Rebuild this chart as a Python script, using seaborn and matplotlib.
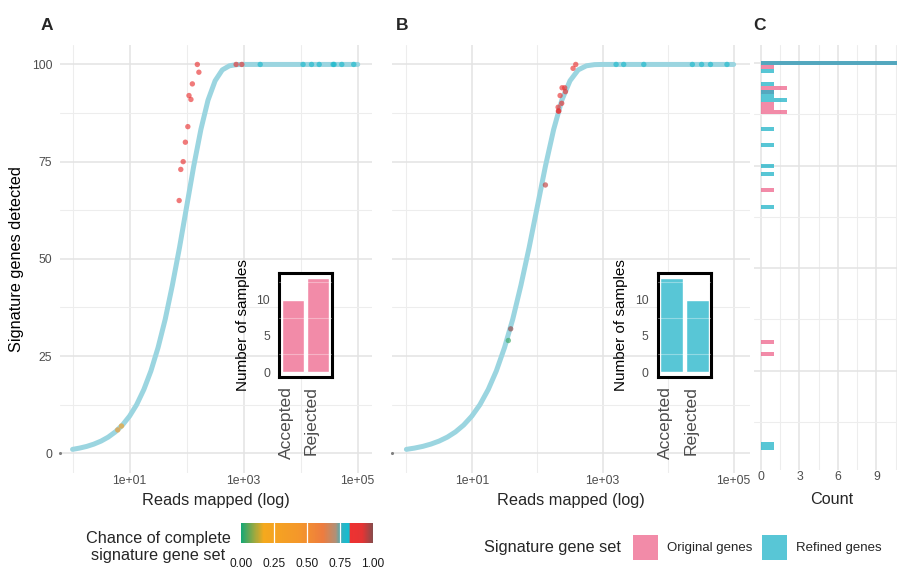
import matplotlib
matplotlib.use("Agg")
import matplotlib.pyplot as plt
import matplotlib.transforms as mtransforms
from matplotlib.colors import LinearSegmentedColormap, Normalize
from matplotlib.colorbar import ColorbarBase
from matplotlib.patches import Rectangle
from matplotlib.ticker import NullFormatter
import pandas as pd
import seaborn as sns

# ---------------------------------------------------------------- data
# expected number of signature genes detected for a given read depth
curve_reads = [1, 1.33, 1.78, 2.37, 3.16, 4.22, 5.62, 7.5, 10, 13.3, 17.8, 23.7,
               31.6, 42.2, 56.2, 75, 100, 133, 178, 237, 316, 422, 562, 750,
               1000, 10000, 100000]
curve_detected = [1.0, 1.33, 1.77, 2.36, 3.13, 4.15, 5.49, 7.26, 9.56, 12.5, 16.4,
                  21.2, 27.2, 34.5, 43.2, 52.9, 63.4, 73.8, 83.3, 90.8, 95.8, 98.6,
                  99.65, 99.95, 100, 100, 100]

# samples scored with the original signature genes
orig_reads = [0, 6.2, 7.2, 74, 79, 87, 95, 105, 110, 119, 126, 164, 154, 738, 929,
              1950, 11000, 15500, 21100, 37000, 38500, 52500, 85100]
orig_detected = [0, 6, 7, 65, 73, 75, 80, 84, 92, 91, 95, 98, 100, 100, 100,
                 100, 100, 100, 100, 100, 100, 100, 100]
orig_chance = [None, 0.40, 0.30, 0.88, 0.88, 0.88, 0.88, 0.88, 0.88, 0.88, 0.88,
               0.88, 0.88, 0.90, 0.90, 0.80, 0.80, 0.80, 0.80, 0.80, 0.80, 0.80, 0.80]

# samples scored with the refined signature genes
ref_reads = [0, 36.1, 39.2, 133, 208, 210, 213, 223, 236, 239, 262, 269, 352, 387,
             1600, 2090, 4240, 23400, 32400, 44300, 79100]
ref_detected = [0, 29, 32, 69, 89, 88, 88, 92, 90, 94, 94, 93, 99, 100,
                100, 100, 100, 100, 100, 100, 100]
ref_chance = [None, 0.03, 0.99, 0.95, 0.88, 0.88, 0.88, 0.88, 0.88, 0.88, 0.88,
              0.88, 0.88, 0.88, 0.80, 0.80, 0.80, 0.80, 0.80, 0.80, 0.80]

# sample outcome counts (inset bar charts)
outcome_labels = ["Accepted", "Rejected"]
orig_outcome_counts = [10, 13]
ref_outcome_counts = [13, 10]

# genes detected per sample, histogram panel
hist_original = [100] * 11 + [99, 94, 94, 93, 90, 89, 88, 88, 69, 32, 29]
hist_refined = [100] * 11 + [98, 95, 93, 92, 91, 91, 84, 80, 75, 73, 65, 7, 6]

# colour scale for the chance of a complete signature gene set
chance_stops = [0.0, 0.17, 0.45, 0.62, 0.72, 0.77, 0.82, 0.83, 0.92, 1.0]
chance_colors = ["#18a874", "#f5a91d", "#f4962b", "#ed7c3f", "#b09078",
                 "#2ab5c6", "#14bdd0", "#ee3232", "#e53434", "#8b4b4b"]

PINK = "#F28BA8"
BLUE = "#58C6D6"
HIST_PINK = "#EE648B"
HIST_BLUE = "#20B3C8"
CURVE = "#9BD5E0"
GRID_MAJOR = "#e3e3e3"
GRID_MINOR = "#ededed"
TICK = "#4d4d4d"

# ---------------------------------------------------------------- figure
sns.set_theme(style="white")
plt.rcParams["font.family"] = ["Liberation Sans", "DejaVu Sans"]

W, H, DPI = 897, 569, 100
fig = plt.figure(figsize=(W / DPI, H / DPI), dpi=DPI)
fig.patch.set_facecolor("white")


def box(x0, y0, x1, y1):
    """Figure-fraction rectangle from pixel edges (y measured from the top)."""
    return [x0 / W, 1 - y1 / H, (x1 - x0) / W, (y1 - y0) / H]


def put_text(x, y, s, **kw):
    fig.text(x / W, 1 - y / H, s, **kw)


chance_cmap = LinearSegmentedColormap.from_list(
    "chance", list(zip(chance_stops, chance_colors)))


def plain_grid(ax):
    ax.grid(True, which="major", color=GRID_MAJOR, linewidth=1.1)
    ax.grid(True, which="minor", color=GRID_MINOR, linewidth=0.75)
    ax.set_axisbelow(True)
    for s in ax.spines.values():
        s.set_visible(False)
    ax.tick_params(which="both", length=0)


def main_panel(rect, reads, detected, chance, show_y):
    ax = fig.add_axes(rect)
    ax.set_facecolor("white")
    sns.lineplot(x=curve_reads, y=curve_detected, ax=ax, color=CURVE,
                 linewidth=3.6, zorder=2)
    df = pd.DataFrame({"reads": reads, "detected": detected, "chance": chance})
    pos = df[df["reads"] > 0].astype(float)
    sns.scatterplot(data=pos, x="reads", y="detected", hue="chance",
                    palette=chance_cmap, hue_norm=(0, 1), s=15, alpha=0.65,
                    linewidth=0, legend=False, ax=ax, zorder=3)
    zero = df[df["reads"] <= 0]
    # samples without mapped reads sit on the left edge of the log axis
    ax.scatter([0] * len(zero), zero["detected"], s=5, color="#808080",
               transform=mtransforms.blended_transform_factory(ax.transAxes, ax.transData),
               clip_on=False, zorder=3, linewidths=0)
    ax.set_xscale("log")
    ax.set_xlim(10 ** -0.22, 10 ** 5.25)
    ax.set_ylim(-5, 105)
    ax.set_xticks([1e1, 1e3, 1e5])
    ax.set_xticklabels(["1e+01", "1e+03", "1e+05"])
    ax.set_xticks([1e0, 1e2, 1e4], minor=True)
    ax.xaxis.set_minor_formatter(NullFormatter())
    ax.set_yticks([0, 25, 50, 75, 100])
    ax.set_yticks([12.5, 37.5, 62.5, 87.5], minor=True)
    plain_grid(ax)
    ax.tick_params(axis="x", labelsize=8.8, labelcolor=TICK, pad=2)
    ax.tick_params(axis="y", labelsize=8.8, labelcolor=TICK, pad=5.5,
                   labelleft=show_y)
    ax.set_xlabel("")
    ax.set_ylabel("")
    return ax


def inset_bars(x0, y0, x1, y1, counts, color):
    ax = fig.add_axes(box(x0, y0, x1, y1))
    ax.set_facecolor("white")
    sns.barplot(x=outcome_labels, y=counts, ax=ax, color=color, width=0.9,
                saturation=1, zorder=2)
    ax.set_xlim(-0.55, 1.55)
    ax.set_ylim(-0.65, 13.65)
    ax.set_yticks([0, 5, 10])
    for v in [2.5, 7.5, 12.5]:
        ax.axhline(v, color="white", alpha=0.35, linewidth=0.8, zorder=3)
    for s in ax.spines.values():
        s.set_visible(True)
        s.set_color("black")
        s.set_linewidth(2.2)
    ax.tick_params(length=0)
    ax.tick_params(axis="y", labelsize=8.8, labelcolor=TICK, pad=6.5)
    ax.tick_params(axis="x", labelsize=12.6, labelcolor=TICK, pad=7, rotation=90)
    shift = mtransforms.ScaledTranslation(-6.5 / DPI, 0, fig.dpi_scale_trans)
    for lab in ax.get_xticklabels():
        lab.set_transform(lab.get_transform() + shift)
        lab.set_verticalalignment("top")
    ax.set_xlabel("")
    ax.set_ylabel("")
    return ax


# panel A and B scatter panels
axA = main_panel(box(60, 45, 372, 472.7), orig_reads, orig_detected, orig_chance, True)
axB = main_panel(box(392, 45, 750, 472.7), ref_reads, ref_detected, ref_chance, False)

inset_bars(279.2, 273.2, 331.8, 376.8, orig_outcome_counts, PINK)
inset_bars(657.5, 273.2, 711.2, 376.8, ref_outcome_counts, BLUE)
put_text(242.5, 325, "Number of samples", rotation=90, ha="center", va="center",
         fontsize=11, color="black")
put_text(621, 325, "Number of samples", rotation=90, ha="center", va="center",
         fontsize=11, color="black")

# panel C histogram
axC = fig.add_axes(box(754, 45, 909, 470))
axC.set_facecolor("white")
sns.histplot(y=hist_original, discrete=True, color=HIST_PINK, alpha=0.75,
             linewidth=0, edgecolor="none", ax=axC)
sns.histplot(y=hist_refined, discrete=True, color=HIST_BLUE, alpha=0.75,
             linewidth=0, edgecolor="none", ax=axC)
axC.set_xlim(-0.55, 11.55)
axC.set_ylim(0.72, 104.43)
axC.set_xticks([0, 3, 6, 9])
axC.set_xticks([1.5, 4.5, 7.5, 10.5], minor=True)
axC.set_yticks([25, 50, 75, 100])
axC.set_yticks([12.5, 37.5, 62.5, 87.5], minor=True)
plain_grid(axC)
axC.tick_params(axis="x", labelsize=8.8, labelcolor=TICK, pad=1)
axC.tick_params(axis="y", labelleft=False)
axC.set_xlabel("")
axC.set_ylabel("")

# axis titles and panel letters
put_text(17, 259, "Signature genes detected", rotation=90, ha="center", va="center",
         fontsize=11.7, color="black")
put_text(216, 500, "Reads mapped (log)", ha="center", va="center", fontsize=11.7)
put_text(571, 500, "Reads mapped (log)", ha="center", va="center", fontsize=11.7)
put_text(831.5, 499, "Count", ha="center", va="center", fontsize=11.7)
for letter, x in [("A", 47), ("B", 402), ("C", 760)]:
    put_text(x, 25, letter, ha="center", va="center", fontsize=12.5, fontweight="bold")

# colour bar legend
axCb = fig.add_axes(box(241, 522.7, 373, 543.3))
cb = ColorbarBase(axCb, cmap=chance_cmap, norm=Normalize(0, 1), orientation="horizontal")
cb.outline.set_visible(False)
cb.set_ticks([0, 0.25, 0.5, 0.75, 1.0])
cb.set_ticklabels(["0.00", "0.25", "0.50", "0.75", "1.00"])
axCb.tick_params(length=0, labelsize=8.6, pad=10.5, labelcolor="#1a1a1a")
for v in [0.25, 0.5, 0.75]:
    axCb.axvline(v, color="white", linewidth=0.9)
put_text(158, 547, "Chance of complete\nsignature gene set", ha="center", va="center",
         fontsize=11.7, linespacing=1.15)

# gene set legend
put_text(484, 547.5, "Signature gene set", ha="left", va="center", fontsize=11.7)
for (x, col, lab) in [(633, PINK, "Original genes"), (762, BLUE, "Refined genes")]:
    fig.add_artist(Rectangle((x / W, 1 - 560 / H), 25 / W, 25 / H,
                             transform=fig.transFigure, facecolor=col, edgecolor="none"))
    put_text(x + 34, 547.5, lab, ha="left", va="center", fontsize=9.5)

fig.savefig("out.png", dpi=DPI, facecolor="white")
